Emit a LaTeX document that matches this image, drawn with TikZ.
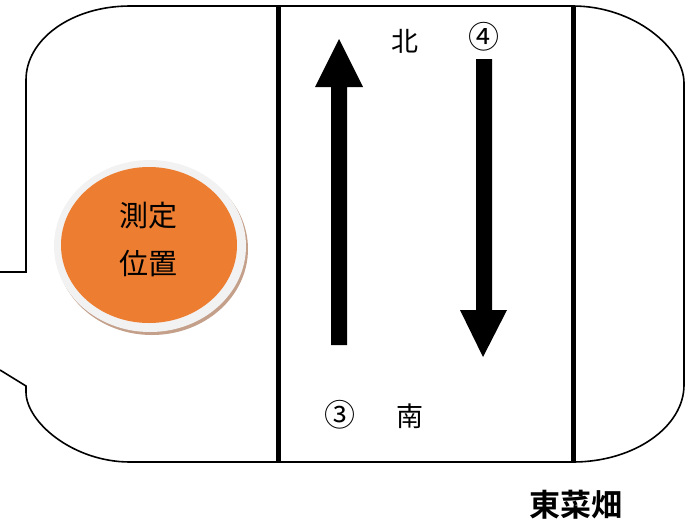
\documentclass[tikz,border=0pt]{standalone}
\usepackage{fontspec}
\setmainfont{Noto Sans CJK JP}
\newfontfamily\cjkbold[BoldFont={* Bold}]{Noto Sans CJK JP}
\begin{document}
\begin{tikzpicture}[x=1pt,y=-1pt,
  outline/.style={draw=black,line width=1.6pt},
  laneline/.style={draw=black,line width=5pt},
  bigarrow/.style={fill=black,draw=none},
  lbl/.style={font=\fontsize{27}{27}\selectfont,inner sep=0pt},
  numlbl/.style={font=\fontsize{31}{31}\selectfont,inner sep=0pt}]
\useasboundingbox (0,0) rectangle (697,523);
% outline
\draw[outline] (0,272) -- (26,272) -- (26,80)
  .. controls (26,39) and (72,6) .. (130,6) -- (573,6)
  .. controls (634,6) and (684,48) .. (684,83) -- (684,385)
  .. controls (684,427) and (634,462) .. (573,462) -- (130,462)
  .. controls (73,462) and (26,422) .. (26,392) -- (26,386) -- (0,370);
% lane lines
\coordinate (l1t) at (278,6); \coordinate (l1b) at (278,462);
\coordinate (l2t) at (573,6); \coordinate (l2b) at (573,462);
\draw[laneline] (l1t) -- (l1b);
\draw[laneline] (l2t) -- (l2b);
% up arrow
\fill[bigarrow] (331,345) -- (331,87) -- (315,87) -- (339,39) -- (363,87) -- (347,87) -- (347,345) -- cycle;
% down arrow
\fill[bigarrow] (476,59) -- (476,310) -- (460,310) -- (483,357) -- (507,310) -- (492,310) -- (492,59) -- cycle;
% measurement point
\fill[fill={rgb,255:red,196;green,160;blue,138}] (152,249) ellipse [x radius=96,y radius=86];
\fill[fill={rgb,255:red,242;green,242;blue,242}] (150,246) ellipse [x radius=96,y radius=86];
\fill[fill={rgb,255:red,237;green,125;blue,49}] (149,245) ellipse [x radius=88,y radius=78];
\node[lbl,font=\fontsize{29}{29}\selectfont] (m1) at (148,216) {測定};
\node[lbl,font=\fontsize{29}{29}\selectfont] (m2) at (148,264) {位置};
% labels
\node[lbl] (north) at (405,41) {北};
\node[numlbl] (four) at (484,37) {④};
\node[numlbl] (three) at (340,415) {③};
\node[lbl] (south) at (410,416) {南};
\node[lbl,font=\cjkbold\bfseries\fontsize{31}{31}\selectfont] (field) at (576,505) {東菜畑};
\end{tikzpicture}
\end{document}
